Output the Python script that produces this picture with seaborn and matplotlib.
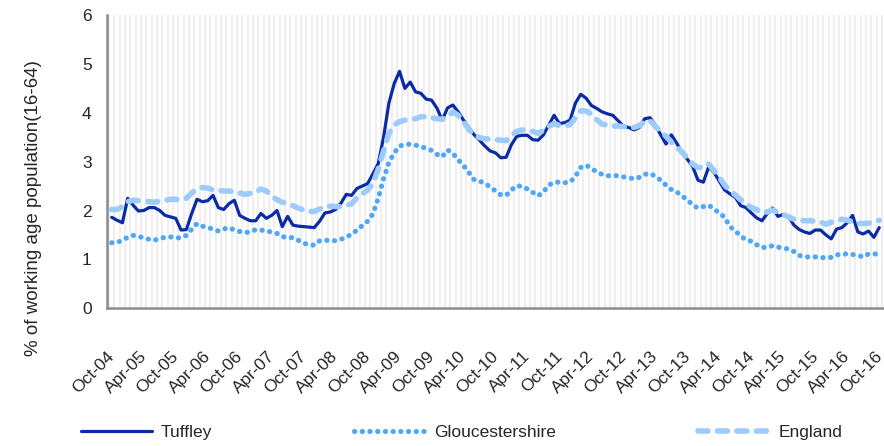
import numpy as np
import pandas as pd
import seaborn as sns
import matplotlib
matplotlib.use('Agg')
import matplotlib.pyplot as plt
from matplotlib.transforms import ScaledTranslation

# monthly values, Oct-04 .. Oct-16
tuffley = [1.86, 1.80, 1.75, 2.25, 2.11, 1.99, 2.00, 2.06, 2.06, 2.00, 1.90, 1.87, 1.84, 1.60, 1.61,
           1.94, 2.23, 2.18, 2.20, 2.31, 2.06, 2.02, 2.14, 2.21, 1.90, 1.84, 1.79, 1.79, 1.94, 1.84,
           1.90, 2.00, 1.67, 1.88, 1.70, 1.68, 1.67, 1.66, 1.65, 1.78, 1.95, 1.97, 2.02, 2.15, 2.33,
           2.31, 2.45, 2.50, 2.55, 2.75, 2.96, 3.50, 4.20, 4.60, 4.85, 4.50, 4.63, 4.43, 4.40, 4.28,
           4.26, 4.10, 3.85, 4.10, 4.16, 4.02, 3.85, 3.70, 3.55, 3.44, 3.32, 3.22, 3.18, 3.08, 3.09,
           3.35, 3.52, 3.54, 3.54, 3.45, 3.44, 3.55, 3.75, 3.95, 3.78, 3.80, 3.85, 4.20, 4.38, 4.30,
           4.15, 4.09, 4.02, 3.98, 3.95, 3.84, 3.73, 3.70, 3.65, 3.70, 3.88, 3.90, 3.75, 3.55, 3.36,
           3.55, 3.38, 3.18, 3.05, 2.90, 2.62, 2.58, 2.89, 2.78, 2.60, 2.42, 2.34, 2.27, 2.10, 2.06,
           1.95, 1.85, 1.79, 1.94, 2.05, 1.88, 1.92, 1.88, 1.70, 1.61, 1.56, 1.53, 1.60, 1.60, 1.50,
           1.42, 1.62, 1.65, 1.75, 1.90, 1.56, 1.52, 1.58, 1.45, 1.65]

gloucestershire = [1.34, 1.34, 1.40, 1.45, 1.49, 1.47, 1.44, 1.41, 1.39, 1.43, 1.45, 1.46, 1.44, 1.44, 1.49,
                   1.62, 1.73, 1.68, 1.65, 1.62, 1.58, 1.62, 1.65, 1.60, 1.57, 1.55, 1.56, 1.61, 1.60, 1.58,
                   1.56, 1.53, 1.46, 1.46, 1.44, 1.39, 1.33, 1.30, 1.29, 1.38, 1.39, 1.39, 1.38, 1.41, 1.46,
                   1.51, 1.60, 1.69, 1.78, 1.93, 2.25, 2.65, 2.98, 3.18, 3.32, 3.35, 3.36, 3.34, 3.30, 3.28,
                   3.23, 3.15, 3.10, 3.24, 3.17, 3.04, 2.92, 2.78, 2.63, 2.60, 2.56, 2.48, 2.40, 2.32, 2.31,
                   2.42, 2.51, 2.49, 2.44, 2.37, 2.30, 2.38, 2.52, 2.58, 2.58, 2.57, 2.58, 2.70, 2.88, 2.93,
                   2.86, 2.79, 2.74, 2.71, 2.72, 2.71, 2.69, 2.67, 2.65, 2.68, 2.74, 2.76, 2.70, 2.62, 2.52,
                   2.43, 2.38, 2.30, 2.22, 2.11, 2.05, 2.08, 2.11, 2.03, 1.95, 1.86, 1.67, 1.58, 1.48, 1.40,
                   1.37, 1.30, 1.24, 1.25, 1.28, 1.25, 1.23, 1.21, 1.16, 1.08, 1.05, 1.05, 1.05, 1.04, 1.03,
                   1.04, 1.09, 1.11, 1.11, 1.10, 1.08, 1.05, 1.11, 1.11, 1.11]

england = [2.02, 2.02, 2.08, 2.18, 2.21, 2.20, 2.19, 2.18, 2.17, 2.19, 2.21, 2.23, 2.23, 2.23, 2.25,
           2.36, 2.44, 2.47, 2.46, 2.42, 2.41, 2.40, 2.40, 2.38, 2.36, 2.33, 2.35, 2.38, 2.44, 2.40,
           2.30, 2.22, 2.17, 2.14, 2.10, 2.05, 2.01, 1.98, 1.98, 2.03, 2.08, 2.09, 2.08, 2.08, 2.10,
           2.14, 2.26, 2.34, 2.42, 2.55, 2.85, 3.22, 3.58, 3.75, 3.82, 3.85, 3.86, 3.88, 3.92, 3.92,
           3.90, 3.88, 3.87, 3.92, 4.02, 3.95, 3.82, 3.66, 3.55, 3.49, 3.47, 3.46, 3.45, 3.44, 3.43,
           3.53, 3.62, 3.65, 3.64, 3.62, 3.58, 3.64, 3.72, 3.78, 3.74, 3.73, 3.76, 3.90, 4.04, 4.04,
           3.97, 3.86, 3.77, 3.75, 3.73, 3.73, 3.72, 3.70, 3.70, 3.74, 3.82, 3.84, 3.72, 3.62, 3.52,
           3.40, 3.30, 3.20, 3.07, 2.95, 2.88, 2.88, 2.95, 2.82, 2.68, 2.52, 2.40, 2.32, 2.22, 2.14,
           2.06, 2.02, 1.95, 1.97, 2.01, 1.96, 1.92, 1.87, 1.82, 1.80, 1.79, 1.79, 1.78, 1.76, 1.72,
           1.76, 1.80, 1.82, 1.80, 1.77, 1.74, 1.73, 1.74, 1.76, 1.80]

months = pd.date_range('2004-10-01', periods=len(tuffley), freq='MS')
month_labels = [m.strftime('%b-%y') for m in months]

df = pd.DataFrame({'idx': np.arange(len(months)), 'Tuffley': tuffley,
                   'Gloucestershire': gloucestershire, 'England': england})

sns.set_style('white')
plt.rcParams['font.family'] = ['Liberation Sans', 'DejaVu Sans']

fig = plt.figure(figsize=(8.84, 4.46), dpi=100)
ax = fig.add_axes([0.121, 0.309, 0.879, 0.657])

sns.lineplot(data=df, x='idx', y='Tuffley', ax=ax, color='#0a2aa8', lw=2.3,
             label='Tuffley', zorder=3)
sns.lineplot(data=df, x='idx', y='Gloucestershire', ax=ax, color='#4fa7f7', lw=3.7,
             linestyle=(0, (0.05, 1.45)), dash_capstyle='round', label='Gloucestershire', zorder=4)
sns.lineplot(data=df, x='idx', y='England', ax=ax, color='#9dccfa', lw=4.0,
             linestyle=(0, (1.8, 1.7)), dash_capstyle='round', label='England', zorder=5)

ax.set_xlim(-0.9, 144.9)
ax.set_ylim(0, 6)
ax.set_xlabel('')
ax.set_ylabel('% of working age population(16-64)', fontsize=13.5)
ax.yaxis.set_label_coords(-0.083, 0.341)

ax.set_xticks(np.arange(0, len(months), 6))
ax.set_xticklabels(month_labels[::6], rotation=45, ha='right', va='top',
                   rotation_mode='anchor', fontsize=12.5)
ax.set_xticks(np.arange(-0.5, len(months) + 0.5, 1), minor=True)
ax.tick_params(axis='x', which='major', length=0, pad=29)
ax.tick_params(axis='x', which='minor', length=4, width=1.2, color='#8c8c8c', direction='out')
ax.tick_params(axis='y', length=5, width=1.2, color='#8c8c8c', direction='out', labelsize=12.5, pad=6)
ax.set_yticks(range(0, 7))
ax.xaxis.grid(True, which='minor', color='#efefef', lw=1.5)
ax.set_axisbelow(True)

for lab in ax.get_xticklabels():
    lab.set_transform(lab.get_transform() + ScaledTranslation(-0.05, 0, fig.dpi_scale_trans))

for side in ['top', 'right']:
    ax.spines[side].set_visible(False)
for side in ['left', 'bottom']:
    ax.spines[side].set_color('#8c8c8c')
    ax.spines[side].set_linewidth(1.8)

ax.get_legend().remove()
handles, labels = ax.get_legend_handles_labels()
fig.legend(handles, labels, loc='center', bbox_to_anchor=(0.522, 0.03), ncol=3, frameon=False,
           fontsize=12.5, handlelength=4.1, handletextpad=0.5, columnspacing=8.2)

fig.savefig('out.png', dpi=100)
